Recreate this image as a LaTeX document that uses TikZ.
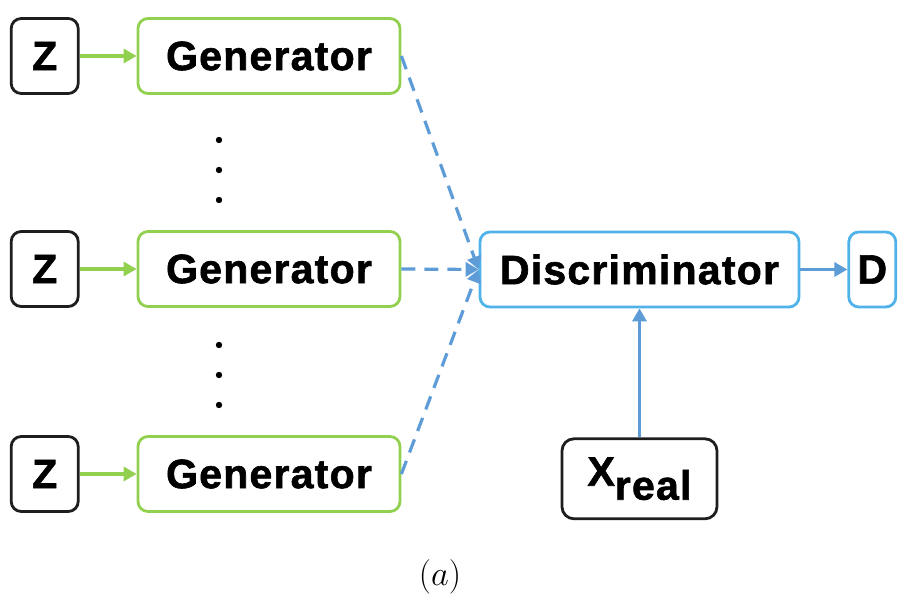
\documentclass[tikz,border=0pt]{standalone}
\usepackage{fontspec}
\setmainfont[BoldFeatures={FakeBold=1.5,LetterSpace=3}]{Liberation Sans}
\usepackage{tikz}
\usetikzlibrary{arrows.meta,positioning}
\definecolor{gengreen}{HTML}{92D050}
\definecolor{disblue}{HTML}{4FB3EA}
\definecolor{arrblue}{HTML}{5E9CD8}
\definecolor{boxblack}{HTML}{1E1E1E}

\begin{document}
\begin{tikzpicture}[
  x=0.5pt,y=-0.5pt,
  node distance=28.5pt,
  every node/.style={font=\fontsize{20.5}{24}\selectfont\bfseries},
  zbox/.style={draw=boxblack,line width=1.4pt,rounded corners=5pt,
               minimum width=33.5pt,minimum height=37.5pt,inner sep=0pt},
  genbox/.style={draw=gengreen,line width=1.4pt,rounded corners=5pt,
                 minimum width=131pt,minimum height=37.5pt,inner sep=0pt},
  disbox/.style={draw=disblue,line width=1.4pt,rounded corners=5pt,
                 minimum width=159.5pt,minimum height=37.5pt,inner sep=0pt},
  realbox/.style={draw=boxblack,line width=1.4pt,rounded corners=6pt,
                  minimum width=77.5pt,minimum height=40pt,inner sep=0pt},
  garr/.style={-{Triangle[length=6.5pt,width=7pt]},line width=1.6pt,gengreen},
  barr/.style={-{Triangle[length=6.5pt,width=7pt]},line width=1.6pt,arrblue},
  darr/.style={barr,dash pattern=on 7pt off 4.5pt}
]
\useasboundingbox (0,0) rectangle (922,614);
% generators
\node[genbox] (g1) at (269,56) {Generator};
\node[genbox] (g2) at (269,269) {Generator};
\node[genbox] (g3) at (269,474) {Generator};
\node[zbox,left=of g1] (z1) {Z};
\node[zbox,left=of g2] (z2) {Z};
\node[zbox,left=of g3] (z3) {Z};
\foreach \y in {140,170,200,345,375,405}
  \fill (219,\y) circle (1.6pt);
% discriminator
\node[disbox] (dis) at (639.5,269.5) {Discriminator};
\node[disbox,minimum width=23.5pt,right=23.5pt of dis] (d) {D};
\node[realbox,below=64.5pt of dis] (xr) {X\raisebox{-7pt}{real}};
\node[font=\fontsize{16}{18}\selectfont] (lbl) at (440,577) {$(a)$};
\draw[garr] (z1) -- (g1);
\draw[garr] (z2) -- (g2);
\draw[garr] (z3) -- (g3);
\draw[darr] (g1.east) -- (dis.west);
\draw[darr] (g2.east) -- (dis.west);
\draw[darr] (g3.east) -- (dis.west);
\draw[barr] (dis) -- (d);
\draw[barr] (xr) -- (dis);
\end{tikzpicture}
\end{document}
